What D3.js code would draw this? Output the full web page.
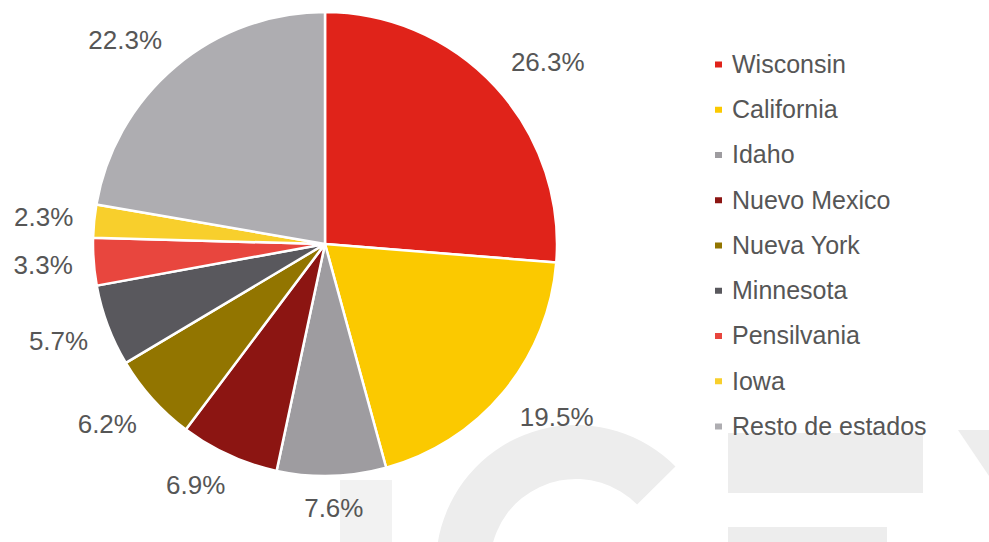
<!DOCTYPE html>
<html lang="es">
<head>
<meta charset="UTF-8">
<title>Estados</title>
<style>
    body { margin: 0; padding: 0; background: #fff; overflow: hidden; }
    svg { display: block; }
    text { font-family: "Liberation Sans", Arial, sans-serif; fill: #565656; }
</style>
</head>
<body>
<svg id="chart" width="989" height="542"></svg>
<script src="https://cdnjs.cloudflare.com/ajax/libs/d3/7.8.5/d3.min.js"></script>
<script>
    // data
    var states = ["Wisconsin", "California", "Idaho", "Nuevo Mexico", "Nueva York",
        "Minnesota", "Pensilvania", "Iowa", "Resto de estados"];
    var shares = [26.3, 19.5, 7.6, 6.9, 6.2, 5.7, 3.3, 2.3, 22.3];
    var colors = ["#e0231a", "#fbc900", "#9e9ca0", "#8c1512", "#927500",
        "#59585d", "#e8463e", "#f8cf2c", "#aeadb1"];

    var w = 989, h = 542;
    var cx = 325, cy = 244, r = 232;
    var svg = d3.select("#chart");

    // faint logo watermark behind everything
    var wm = svg.append("g").attr("fill", "#ededed");
    wm.append("rect").attr("x", 340).attr("y", 480).attr("width", 52).attr("height", 62).attr("fill", "#f2f2f2");
    wm.append("path")
        .attr("transform", "translate(576,565)")
        .attr("d", d3.arc()({innerRadius: 86, outerRadius: 140, startAngle: 0.79, endAngle: -Math.PI}));
    wm.append("rect").attr("x", 728).attr("y", 433).attr("width", 195).attr("height", 60);
    wm.append("rect").attr("x", 728).attr("y", 527).attr("width", 159).attr("height", 20);
    wm.append("path").attr("d", "M958,430L989,430L989,476Z");

    var color = d3.scaleOrdinal().domain(states).range(colors);

    var pie = d3.pie().sort(null).value(function (d, i) { return shares[i]; });
    var arcs = pie(states);
    var arc = d3.arc().innerRadius(0).outerRadius(r);

    var g = svg.append("g").attr("transform", "translate(" + cx + "," + cy + ")");

    g.selectAll(".slice")
        .data(arcs)
        .enter().append("path")
        .attr("class", "slice")
        .attr("d", arc)
        .attr("fill", function (d) { return color(d.data); })
        .attr("stroke", "#fff")
        .attr("stroke-width", 2.5)
        .attr("stroke-linejoin", "round");

    // outside-end labels: anchor just outside the rim, box pushed away from it
    var gap = 21, hh = 11;
    var clamp = function (v) { return Math.max(-1, Math.min(1, v * 2)); };
    g.selectAll(".lbl")
        .data(arcs)
        .enter().append("text")
        .attr("class", "lbl")
        .attr("dy", "0.35em")
        .attr("text-anchor", "middle")
        .style("font-size", "26px")
        .text(function (d, i) { return shares[i].toFixed(1) + "%"; })
        .each(function (d) {
            var a = (d.startAngle + d.endAngle) / 2;
            var hw = this.getComputedTextLength() / 2;
            var x = (r + gap) * Math.sin(a) + hw * clamp(Math.sin(a));
            var y = -(r + gap) * Math.cos(a) - hh * clamp(Math.cos(a));
            d3.select(this).attr("x", x).attr("y", y);
        });

    // legend
    var ly = d3.scalePoint().domain(states).range([64, 426]);
    var leg = svg.append("g");
    var item = leg.selectAll(".item")
        .data(states)
        .enter().append("g")
        .attr("class", "item")
        .attr("transform", function (d) { return "translate(0," + ly(d) + ")"; });
    item.append("rect")
        .attr("x", 715).attr("y", -2.5)
        .attr("width", 7).attr("height", 6)
        .attr("fill", function (d) { return color(d); });
    item.append("text")
        .attr("x", 732)
        .attr("dy", "0.35em")
        .style("font-size", "25px")
        .text(function (d) { return d; });
</script>
</body>
</html>
